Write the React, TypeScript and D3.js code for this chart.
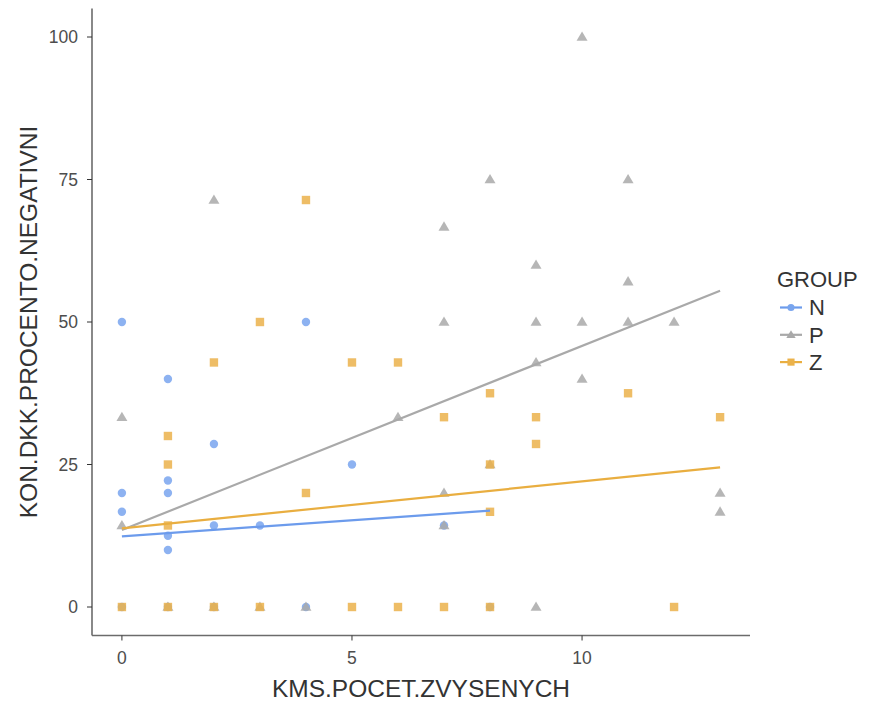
import React from "react";
import * as d3 from "d3";

const xTicks = [0, 5, 10];
const yTicks = [0, 25, 50, 75, 100];
const groups = ["N", "P", "Z"];

const nX = [0, 0, 0, 0, 1, 1, 1, 1, 1, 1, 2, 2, 2, 3, 4, 4, 5, 7, 8];
const nY = [50, 20, 16.7, 0, 40, 22.2, 20, 12.5, 10, 0, 28.6, 14.3, 0, 14.3, 50, 0, 25, 14.3, 0];

const pX = [0, 0, 1, 2, 2, 3, 4, 6, 7, 7, 7, 7, 8, 8, 9, 9, 9, 9, 10, 10, 10, 11, 11, 11, 12, 13, 13];
const pY = [33.3, 14.3, 0, 71.4, 0, 0, 0, 33.3, 66.7, 50, 20, 14.3, 75, 25, 60, 50, 42.9, 0, 100, 50, 40, 75, 57.1, 50, 50, 20, 16.7];

const zX = [0, 1, 1, 1, 1, 2, 2, 3, 3, 4, 4, 5, 5, 6, 6, 7, 7, 8, 8, 8, 8, 9, 9, 11, 12, 13];
const zY = [0, 30, 25, 14.3, 0, 42.9, 0, 50, 0, 71.4, 20, 42.9, 0, 42.9, 0, 33.3, 0, 37.5, 25, 16.7, 0, 33.3, 28.6, 37.5, 0, 33.3];

// fitted lines: [x0, y0, x1, y1]
const nFit = [0, 12.4, 8, 16.9];
const pFit = [0, 13.5, 13, 55.5];
const zFit = [0, 13.8, 13, 24.5];

const colors: Record<string, string> = { N: "#79a5ee", P: "#a9a9a9", Z: "#ebb24b" };
const lineColors: Record<string, string> = { N: "#6c9bec", P: "#a9a9a9", Z: "#e9ae40" };

const W = 871, H = 706;
const left = 92, right = 750, top = 8.5, bottom = 635.5;

export default function App() {
  const x = d3.scaleLinear().domain([-0.65, 13.65]).range([left, right]);
  const y = d3.scaleLinear().domain([-5, 105]).range([bottom, top]);
  const font = "Liberation Sans, Arial, sans-serif";

  const series = [
    { g: "N", xs: nX, ys: nY, fit: nFit },
    { g: "P", xs: pX, ys: pY, fit: pFit },
    { g: "Z", xs: zX, ys: zY, fit: zFit },
  ];

  const sym = (g: string, cx: number, cy: number, key: string, scale = 1) => {
    const c = colors[g];
    if (g === "N") return <circle key={key} cx={cx} cy={cy} r={4.2 * scale} fill={c} />;
    if (g === "P") {
      const s = 5.5 * scale;
      return <path key={key} d={`M${cx},${cy - s}L${cx + s},${cy + s * 0.7}L${cx - s},${cy + s * 0.7}Z`} fill={c} />;
    }
    const s = 4.2 * scale;
    return <rect key={key} x={cx - s} y={cy - s} width={2 * s} height={2 * s} fill={c} />;
  };

  return (
    <svg width={W} height={H} style={{ display: "block", position: "absolute", left: 0, top: 0 }} fontFamily={font}>
      <rect width={W} height={H} fill="#fff" />
      {series.map((s) =>
        s.xs.map((v, i) => (
          <g key={s.g + i} opacity={0.85}>{sym(s.g, x(v), y(s.ys[i]), s.g + "p" + i)}</g>
        ))
      )}
      {series.map((s) => (
        <line key={"l" + s.g} x1={x(s.fit[0])} y1={y(s.fit[1])} x2={x(s.fit[2])} y2={y(s.fit[3])}
          stroke={lineColors[s.g]} strokeWidth={2.2} />
      ))}
      <line x1={left} y1={top} x2={left} y2={bottom} stroke="#6b6b6b" strokeWidth={1.6} />
      <line x1={left} y1={bottom} x2={right} y2={bottom} stroke="#6b6b6b" strokeWidth={1.6} />
      {yTicks.map((t) => (
        <g key={"yt" + t}>
          <line x1={left - 5} x2={left} y1={y(t)} y2={y(t)} stroke="#333" strokeWidth={1} />
          <text x={78} y={y(t)} dy="0.36em" textAnchor="end" fontSize={17.5} fill="#4d4d4d">{t}</text>
        </g>
      ))}
      {xTicks.map((t) => (
        <g key={"xt" + t}>
          <line x1={x(t)} x2={x(t)} y1={bottom} y2={bottom + 5} stroke="#333" strokeWidth={1} />
          <text x={x(t)} y={664} textAnchor="middle" fontSize={17.5} fill="#4d4d4d">{t}</text>
        </g>
      ))}
      <text x={(left + right) / 2} y={697} textAnchor="middle" fontSize={24.5} fill="#333">KMS.POCET.ZVYSENYCH</text>
      <text transform={`translate(37,${(top + bottom) / 2}) rotate(-90)`} textAnchor="middle" fontSize={24.5} fill="#333">KON.DKK.PROCENTO.NEGATIVNI</text>
      <text x={777} y={287} fontSize={22} fill="#333">GROUP</text>
      {groups.map((g, i) => {
        const cy = 307.5 + i * 27.3;
        return (
          <g key={"lg" + g}>
            <line x1={780} x2={802} y1={cy} y2={cy} stroke={lineColors[g]} strokeWidth={2.2} />
            {sym(g, 791, cy, "ls" + g, 0.85)}
            <text x={809} y={cy} dy="0.36em" fontSize={22} fill="#333">{g}</text>
          </g>
        );
      })}
    </svg>
  );
}
